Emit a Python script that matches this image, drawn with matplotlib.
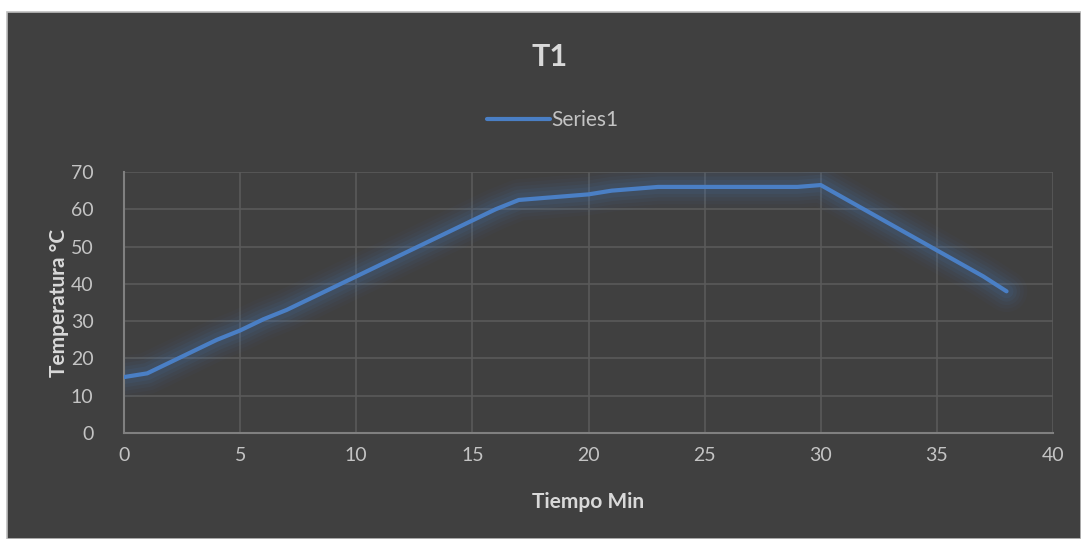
import matplotlib
matplotlib.use('Agg')
import matplotlib.pyplot as plt
from matplotlib.patches import Rectangle

# datos
minutos = list(range(0, 39))
temperatura = [15, 16, 19, 22, 25, 27.5, 30.5, 33, 36, 39,
               42, 45, 48, 51, 54, 57, 60, 62.5, 63, 63.5,
               64, 65, 65.5, 66, 66, 66, 66, 66, 66, 66,
               66.5, 63, 59.5, 56, 52.5, 49, 45.5, 42, 38]
serie = 'Series1'
titulo = 'T1'
xticks = [0, 5, 10, 15, 20, 25, 30, 35, 40]
yticks = [0, 10, 20, 30, 40, 50, 60, 70]

plt.rcParams['font.family'] = ['Lato', 'DejaVu Sans']

fondo = '#404040'
texto = '#d9d9d9'
azul = '#4a7fc5'

fig = plt.figure(figsize=(10.81, 5.39), dpi=100, facecolor='white')
# panel oscuro del grafico
panel = Rectangle((7 / 1081, 0), 1 - 7 / 1081, 527 / 539,
                  transform=fig.transFigure, facecolor=fondo,
                  edgecolor='#bfbfbf', linewidth=1.2, zorder=-10)
fig.add_artist(panel)

ax = fig.add_axes([124 / 1081, 106 / 539, 929 / 1081, 261 / 539])
ax.set_zorder(5)
ax.set_facecolor(fondo)

# brillo alrededor de la linea
for w, a in [(30, 0.03), (25, 0.04), (20, 0.05), (15, 0.07), (10, 0.09)]:
    ax.plot(minutos, temperatura, color=azul, linewidth=w, alpha=a,
            solid_capstyle='round', solid_joinstyle='round', zorder=2)
ax.plot(minutos, temperatura, color=azul, linewidth=3, label=serie,
        solid_capstyle='round', solid_joinstyle='round', zorder=3)

ax.set_xlim(0, 40)
ax.set_ylim(0, 70)
ax.set_xticks(xticks)
ax.set_yticks(yticks)
ax.grid(True, color='#5a5a5a', linewidth=1.2)
ax.set_axisbelow(True)
for s in ['top', 'right']:
    ax.spines[s].set_visible(False)
for s in ['left', 'bottom']:
    ax.spines[s].set_color('#808080')
    ax.spines[s].set_linewidth(1.5)
ax.tick_params(length=0, labelsize=14, labelcolor='#c4c4c4')
ax.tick_params(axis='y', pad=22)
ax.tick_params(axis='x', pad=10)

ax.set_xlabel('Tiempo Min', fontsize=15, fontweight='bold', color=texto, labelpad=20)
ax.set_ylabel('Temperatura °C', fontsize=15, fontweight='bold', color=texto, labelpad=1)

fig.text(550 / 1081, 1 - 57 / 539, titulo, ha='center', va='center',
         fontsize=22, fontweight='bold', color=texto, zorder=10)
leg = ax.legend(loc='center', bbox_to_anchor=(553 / 1081, 1 - 120 / 539),
                bbox_transform=fig.transFigure, frameon=False, fontsize=15,
                handlelength=3.0, handletextpad=0.1, labelcolor='#c4c4c4')

plt.savefig('out.png', dpi=100, facecolor=fig.get_facecolor())
